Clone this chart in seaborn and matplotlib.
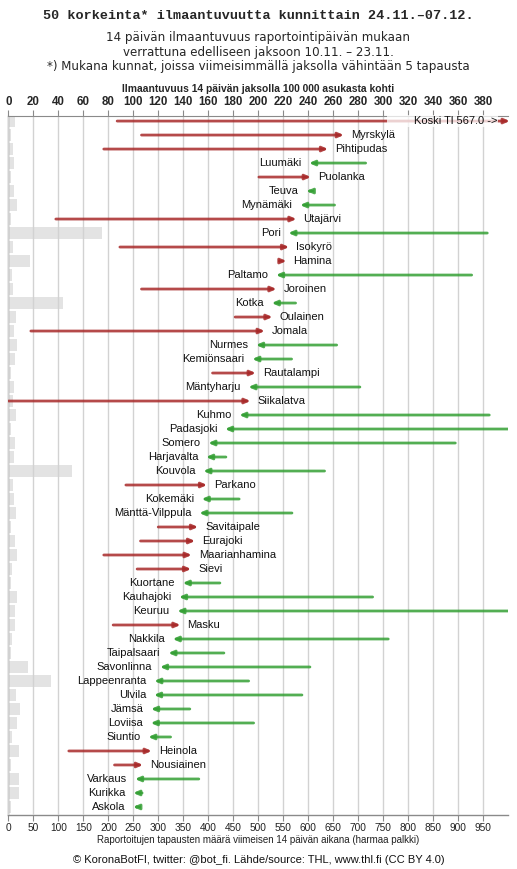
import numpy as np
import pandas as pd
import seaborn as sns
import matplotlib.pyplot as plt
from matplotlib.patches import FancyArrowPatch, ArrowStyle

# kunnat, järjestyksessä ylhäältä alas
kunnat = ["Koski Tl", "Myrskylä", "Pihtipudas", "Luumäki", "Puolanka", "Teuva", "Mynämäki",
          "Utajärvi", "Pori", "Isokyrö", "Hamina", "Paltamo", "Joroinen", "Kotka", "Oulainen",
          "Jomala", "Nurmes", "Kemiönsaari", "Rautalampi", "Mäntyharju", "Siikalatva", "Kuhmo",
          "Padasjoki", "Somero", "Harjavalta", "Kouvola", "Parkano", "Kokemäki", "Mänttä-Vilppula",
          "Savitaipale", "Eurajoki", "Maarianhamina", "Sievi", "Kuortane", "Kauhajoki", "Keuruu",
          "Masku", "Nakkila", "Taipalsaari", "Savonlinna", "Lappeenranta", "Ulvila", "Jämsä",
          "Loviisa", "Siuntio", "Heinola", "Nousiainen", "Varkaus", "Kurikka", "Askola"]

# ilmaantuvuus 24.11.-07.12. (per 100 000)
nyt = [567.0, 268.6, 256.0, 240.6, 242.2, 238.7, 233.4, 230.7, 224.0, 224.8, 222.7, 214.1,
       214.7, 210.7, 211.5, 205.3, 198.1, 195.1, 198.1, 192.0, 193.9, 184.7, 173.3, 159.9,
       158.1, 155.9, 159.1, 154.6, 152.7, 151.9, 149.5, 146.8, 146.3, 139.4, 136.4, 135.1,
       137.8, 131.4, 127.9, 121.2, 116.6, 116.4, 114.0, 113.8, 111.8, 114.8, 107.8, 101.2,
       99.8, 99.8]

# ilmaantuvuus 10.11.-23.11.
ennen = [87.0, 106.5, 76.3, 286.0, 200.5, 242.7, 261.1, 37.9, 383.4, 89.2, 216.8, 370.9,
         106.5, 229.9, 181.5, 17.9, 262.8, 226.7, 163.4, 281.4, 0.0, 385.0, 401.0, 357.8,
         174.1, 253.1, 94.0, 184.7, 227.0, 119.9, 105.7, 76.3, 103.0, 169.3, 291.6, 401.0,
         83.8, 304.1, 172.5, 241.4, 192.3, 235.0, 145.2, 196.3, 129.8, 48.3, 84.9, 152.4,
         107.0, 104.4]

# tapausten määrä 14 päivän aikana (harmaa palkki)
tapaukset = [13, 5, 10, 11, 6, 12, 18, 6, 188, 10, 44, 7, 10, 109, 15, 11, 18, 13, 6, 11,
             10, 15, 5, 14, 11, 127, 10, 11, 15, 5, 14, 17, 7, 5, 18, 13, 13, 7, 6, 40,
             85, 15, 23, 17, 7, 21, 5, 21, 21, 5]

df = pd.DataFrame({"kunta": kunnat, "nyt": nyt, "ennen": ennen, "tapaukset": tapaukset})

sns.set_style("white")
plt.rcParams["font.family"] = ["Liberation Sans", "DejaVu Sans"]

punainen = "#a82a2a"
vihrea = "#35a035"
harmaa = "#8a8a8a"

fig = plt.figure(figsize=(5.17, 8.69), dpi=100)
ax = fig.add_axes([0.01644, 0.0622, 0.96615, 0.8043])

sns.barplot(data=df, y="kunta", x="tapaukset", orient="h", color="#e3e3e3",
            saturation=1, width=0.9, linewidth=0, ax=ax)
ax.set_xlim(0, 1000)
ax.set_ylim(49.57, -0.36)
ax.set_yticks([])
ax.set_ylabel("")
ax.set_xticks(np.arange(0, 1000, 50))
ax.tick_params(axis="x", direction="out", length=4, color=harmaa, pad=1.5,
               labelsize=7.3, labelcolor="#222222")
ax.set_xlabel("Raportoitujen tapausten määrä viimeisen 14 päivän aikana (harmaa palkki)",
              fontsize=7, labelpad=2, color="#222222")
ax.grid(axis="x", color="#d2d2d2", lw=1)
ax.set_axisbelow(False)
for s in ["top", "right"]:
    ax.spines[s].set_visible(False)
for s in ["left", "bottom"]:
    ax.spines[s].set_color(harmaa)
    ax.spines[s].set_linewidth(1)

ax2 = ax.twiny()
ax2.set_xlim(0, 400)
ax2.set_xticks(np.arange(0, 400, 20))
ax2.tick_params(axis="x", direction="out", length=4, color=harmaa, pad=1.5, labelsize=8.3)
for lab in ax2.get_xticklabels():
    lab.set_fontweight("bold")
ax2.set_xlabel("Ilmaantuvuus 14 päivän jaksolla 100 000 asukasta kohti", fontsize=7.4,
               fontweight="bold", labelpad=3)
for s in ["bottom", "left", "right"]:
    ax2.spines[s].set_visible(False)
ax2.spines["top"].set_color(harmaa)

tyyli = ArrowStyle("-|>", head_length=0.32, head_width=0.14)
for i, r in df.iterrows():
    nousu = r["nyt"] > r["ennen"]
    vari = punainen if nousu else vihrea
    loppu = min(r["nyt"], 401.5)
    nuoli = FancyArrowPatch((r["ennen"], i), (loppu, i), arrowstyle=tyyli, mutation_scale=10,
                            lw=2.0, color=vari, alpha=0.85, shrinkA=0, shrinkB=0,
                            clip_on=r["nyt"] <= 400, zorder=3)
    ax2.add_patch(nuoli)
    if r["nyt"] > 400:
        ax2.annotate("        %s %.1f ->" % (r["kunta"], r["nyt"]), xy=(400, i),
                     xytext=(-8, 0), textcoords="offset points", ha="right", va="center",
                     fontsize=8, color="#111111", zorder=4,
                     bbox=dict(boxstyle="square,pad=0.1", fc="white", ec="none", alpha=0.75))
    elif nousu:
        ax2.annotate(r["kunta"], xy=(r["nyt"], i), xytext=(5, 0), textcoords="offset points",
                     ha="left", va="center", fontsize=8, color="#111111", zorder=4)
    else:
        ax2.annotate(r["kunta"], xy=(r["nyt"], i), xytext=(-5.5, 0), textcoords="offset points",
                     ha="right", va="center", fontsize=8, color="#111111", zorder=4)

fig.text(0.5, 0.9816, "50 korkeinta* ilmaantuvuutta kunnittain 24.11.–07.12.",
         ha="center", va="center", fontsize=9.7, fontweight="bold", family="Liberation Mono")
fig.text(0.5, 0.9574, "14 päivän ilmaantuvuus raportointipäivän mukaan",
         ha="center", va="center", fontsize=8.6, family="DejaVu Sans")
fig.text(0.5, 0.9401, "verrattuna edelliseen jaksoon 10.11. – 23.11.",
         ha="center", va="center", fontsize=8.6, family="DejaVu Sans")
fig.text(0.5, 0.9229, "*) Mukana kunnat, joissa viimeisimmällä jaksolla vähintään 5 tapausta",
         ha="center", va="center", fontsize=8.6, family="DejaVu Sans")
fig.text(0.5, 0.0104, "© KoronaBotFI, twitter: @bot_fi. Lähde/source: THL, www.thl.fi (CC BY 4.0)",
         ha="center", va="center", fontsize=8, color="#111111")

fig.savefig("out.png", dpi=100)
